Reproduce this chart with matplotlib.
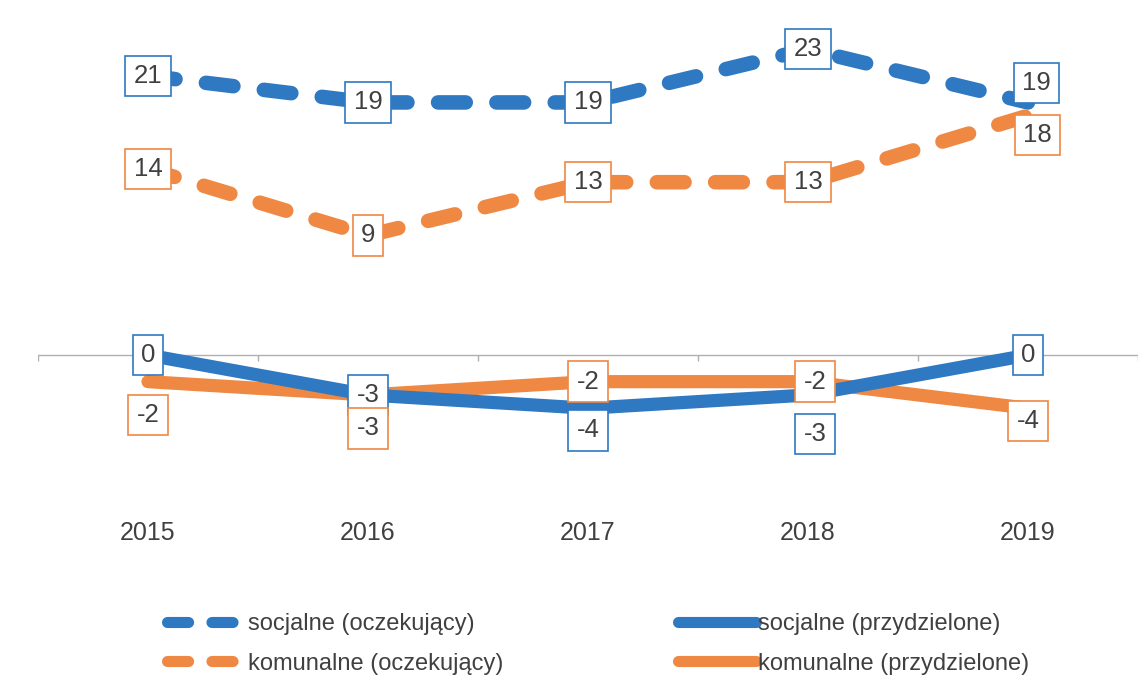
import matplotlib.pyplot as plt
import numpy as np

plt.rcParams['font.family'] = ['Liberation Sans', 'DejaVu Sans']

years = ['2015', '2016', '2017', '2018', '2019']
soc_oczek = [21, 19, 19, 23, 19]
kom_oczek = [14, 9, 13, 13, 18]
soc_przydz = [0, -3, -4, -3, 0]
kom_przydz = [-2, -3, -2, -2, -4]

blue = '#2f78c2'
orange = '#ef8843'
txt = '#404040'

# label offsets (points) per series, roughly as placed in the original
off_soc_oczek = [(0, 0), (0, 0), (0, 0), (0, 0), (6, 14)]
off_kom_oczek = [(0, 0), (0, 0), (0, 0), (0, 0), (7, -14)]
off_soc_przydz = [(0, 0), (0, 0), (0, -16), (5, -28), (0, 0)]
off_kom_przydz = [(0, -24), (0, -24), (0, 0), (5, 0), (0, -9)]

fig = plt.figure(figsize=(11.48, 6.96), dpi=100)
ax = fig.add_axes([38 / 1148, (696 - 500) / 696, 1100 / 1148, 480 / 696])

x = np.arange(len(years))

# zero line with category boundary ticks
ax.axhline(0, color='#b0b0b0', lw=1, zorder=1)
bounds = np.arange(len(years) + 1) - 0.5
ax.vlines(bounds, -0.45, 0, color='#b0b0b0', lw=1, zorder=1)

dash = (1.9, 2.1)
ax.plot(x, soc_oczek, color=blue, lw=10.5, dashes=dash, dash_capstyle='round',
        solid_capstyle='round', label='socjalne (oczekujący)', zorder=2)
ax.plot(x, kom_oczek, color=orange, lw=10.5, dashes=dash, dash_capstyle='round',
        solid_capstyle='round', label='komunalne (oczekujący)', zorder=2)
ax.plot(x, soc_przydz, color=blue, lw=9.5, solid_capstyle='round',
        label='socjalne (przydzielone)', zorder=3)
ax.plot(x, kom_przydz, color=orange, lw=9.5, solid_capstyle='round',
        label='komunalne (przydzielone)', zorder=2)

for vals, offs, col in [(soc_oczek, off_soc_oczek, blue),
                        (kom_oczek, off_kom_oczek, orange),
                        (soc_przydz, off_soc_przydz, blue),
                        (kom_przydz, off_kom_przydz, orange)]:
    for xi, v, o in zip(x, vals, offs):
        ax.annotate(str(v), (xi, v), xytext=o, textcoords='offset points',
                    ha='center', va='center', fontsize=18.5, color=txt, zorder=5,
                    bbox=dict(boxstyle='square,pad=0.32', fc='white', ec=col, lw=1.2))

ax.set_xlim(-0.5, len(years) - 0.5)
ax.set_ylim(-10.9, 25.2)
ax.set_xticks(x, years)
ax.tick_params(axis='x', length=0, pad=15, labelsize=18, labelcolor=txt)
ax.set_yticks([])
for s in ax.spines.values():
    s.set_visible(False)

leg = fig.legend(loc='lower left', bbox_to_anchor=(146 / 1148, 0), ncol=2,
                 frameon=False, fontsize=17, labelcolor=txt, handlelength=3.3,
                 handletextpad=0.1, columnspacing=7.4, labelspacing=0.75)
for ln in leg.get_lines():
    ln.set_linewidth(8)

fig.savefig('out.png', dpi=100)
